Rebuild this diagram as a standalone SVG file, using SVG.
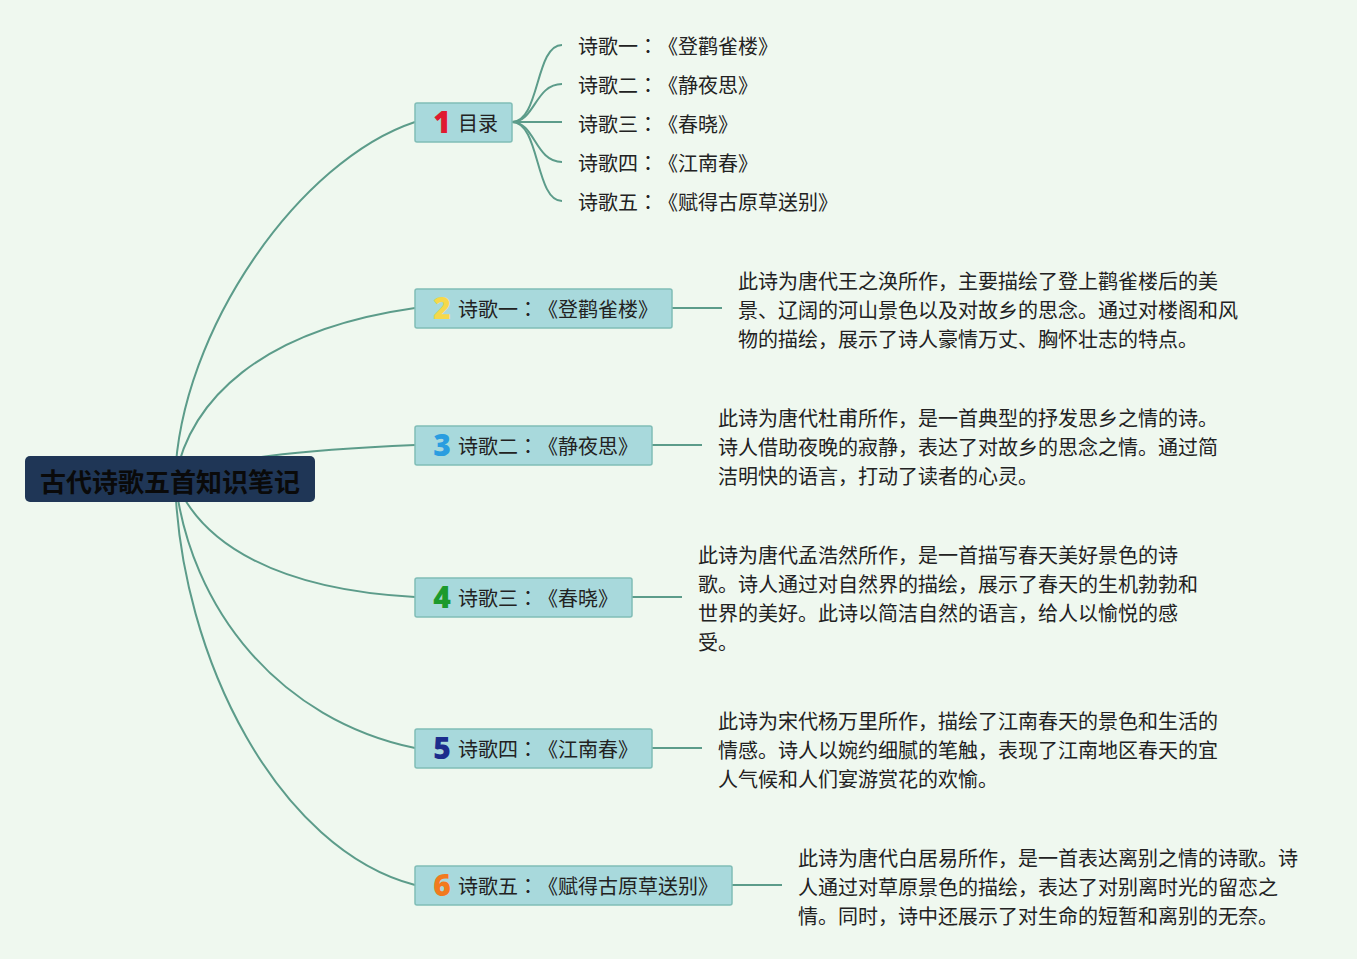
<svg xmlns="http://www.w3.org/2000/svg" width="1357" height="959" viewBox="0 0 1357 959">
<style>
.bg{fill:#eff8ef}
.ln{fill:none;stroke:#5c9c8a;stroke-width:2}
.box{fill:#a8d9dc;stroke:#80bdb6;stroke-width:1.5}
.root{fill:#1f3656}
text{text-spacing-trim:space-all;font-feature-settings:"chws" 0,"halt" 0,"palt" 0}
.t{font-family:"Noto Sans CJK SC","Noto Sans",sans-serif;font-size:20px;fill:#222;dominant-baseline:central}
.c{font-family:"Noto Sans CJK JP","Noto Sans CJK SC",sans-serif}
.rt{font-family:"Noto Sans CJK SC","Noto Sans",sans-serif;font-size:26px;font-weight:bold;fill:#0a0a0a;dominant-baseline:central;text-anchor:middle}
.n{font-family:"Open Sans","Liberation Sans",sans-serif;font-size:30px;font-weight:800;dominant-baseline:central;text-anchor:middle}
</style>
<rect class="bg" x="0" y="0" width="1357" height="959"/>
<g id="connectors">
<path class="ln" d="M175 479 C180 330 300 160 415 122"/>
<path class="ln" d="M175 479 C190 400 260 330 415 308"/>
<path class="ln" d="M175 479 C220 458 300 450 415 445"/>
<path class="ln" d="M175 479 C200 545 280 590 415 597"/>
<path class="ln" d="M175 479 C190 610 280 720 415 748"/>
<path class="ln" d="M175 479 C180 660 280 850 415 885"/>
<path class="ln" d="M512 122 C540 122 535 45 562 45"/>
<path class="ln" d="M512 122 C535 122 535 84 562 84"/>
<path class="ln" d="M512 122 L562 122"/>
<path class="ln" d="M512 122 C535 122 535 162 562 162"/>
<path class="ln" d="M512 122 C540 122 535 201 562 201"/>
<path class="ln" d="M672 308 L722 308"/>
<path class="ln" d="M652 445 L702 445"/>
<path class="ln" d="M632 597 L682 597"/>
<path class="ln" d="M652 748 L702 748"/>
<path class="ln" d="M732 885 L782 885"/>
</g>
<g id="root">
<rect class="root" x="25" y="456" width="290" height="46" rx="5"/>
<text class="rt" x="170" y="480">古代诗歌五首知识笔记</text>
</g>
<g id="node1">
<rect class="box" x="415" y="103" width="97" height="39" rx="2"/>
<text class="n" x="442" y="121" fill="#e0192f">1</text>
<text class="t" x="458" y="122">目录</text>
</g>
<g id="toc">
<text class="t" x="578" y="45">诗歌一<tspan class="c">：</tspan>《登鹳雀楼》</text>
<text class="t" x="578" y="84">诗歌二<tspan class="c">：</tspan>《静夜思》</text>
<text class="t" x="578" y="123">诗歌三<tspan class="c">：</tspan>《春晓》</text>
<text class="t" x="578" y="162">诗歌四<tspan class="c">：</tspan>《江南春》</text>
<text class="t" x="578" y="201">诗歌五<tspan class="c">：</tspan>《赋得古原草送别》</text>
</g>
<g id="node2">
<rect class="box" x="415" y="289" width="257" height="39" rx="2"/>
<text class="n" x="442" y="307" fill="#f6d84a">2</text>
<text class="t" x="458" y="308">诗歌一<tspan class="c">：</tspan>《登鹳雀楼》</text>
</g>
<g id="desc2">
<text class="t" x="738" y="280">此诗为唐代王之涣所作，主要描绘了登上鹳雀楼后的美</text>
<text class="t" x="738" y="309">景、辽阔的河山景色以及对故乡的思念。通过对楼阁和风</text>
<text class="t" x="738" y="338">物的描绘，展示了诗人豪情万丈、胸怀壮志的特点。</text>
</g>
<g id="node3">
<rect class="box" x="415" y="426" width="237" height="39" rx="2"/>
<text class="n" x="442" y="444" fill="#2a9de0">3</text>
<text class="t" x="458" y="445">诗歌二<tspan class="c">：</tspan>《静夜思》</text>
</g>
<g id="desc3">
<text class="t" x="718" y="417">此诗为唐代杜甫所作，是一首典型的抒发思乡之情的诗。</text>
<text class="t" x="718" y="446">诗人借助夜晚的寂静，表达了对故乡的思念之情。通过简</text>
<text class="t" x="718" y="475">洁明快的语言，打动了读者的心灵。</text>
</g>
<g id="node4">
<rect class="box" x="415" y="578" width="217" height="39" rx="2"/>
<text class="n" x="442" y="596" fill="#1c9a2c">4</text>
<text class="t" x="458" y="597">诗歌三<tspan class="c">：</tspan>《春晓》</text>
</g>
<g id="desc4">
<text class="t" x="698" y="554">此诗为唐代孟浩然所作，是一首描写春天美好景色的诗</text>
<text class="t" x="698" y="583">歌。诗人通过对自然界的描绘，展示了春天的生机勃勃和</text>
<text class="t" x="698" y="612">世界的美好。此诗以简洁自然的语言，给人以愉悦的感</text>
<text class="t" x="698" y="641">受。</text>
</g>
<g id="node5">
<rect class="box" x="415" y="729" width="237" height="39" rx="2"/>
<text class="n" x="442" y="747" fill="#1c2c8c">5</text>
<text class="t" x="458" y="748">诗歌四<tspan class="c">：</tspan>《江南春》</text>
</g>
<g id="desc5">
<text class="t" x="718" y="720">此诗为宋代杨万里所作，描绘了江南春天的景色和生活的</text>
<text class="t" x="718" y="749">情感。诗人以婉约细腻的笔触，表现了江南地区春天的宜</text>
<text class="t" x="718" y="778">人气候和人们宴游赏花的欢愉。</text>
</g>
<g id="node6">
<rect class="box" x="415" y="866" width="317" height="39" rx="2"/>
<text class="n" x="442" y="884" fill="#f27a1e">6</text>
<text class="t" x="458" y="885">诗歌五<tspan class="c">：</tspan>《赋得古原草送别》</text>
</g>
<g id="desc6">
<text class="t" x="798" y="857">此诗为唐代白居易所作，是一首表达离别之情的诗歌。诗</text>
<text class="t" x="798" y="886">人通过对草原景色的描绘，表达了对别离时光的留恋之</text>
<text class="t" x="798" y="915">情。同时，诗中还展示了对生命的短暂和离别的无奈。</text>
</g>
</svg>
